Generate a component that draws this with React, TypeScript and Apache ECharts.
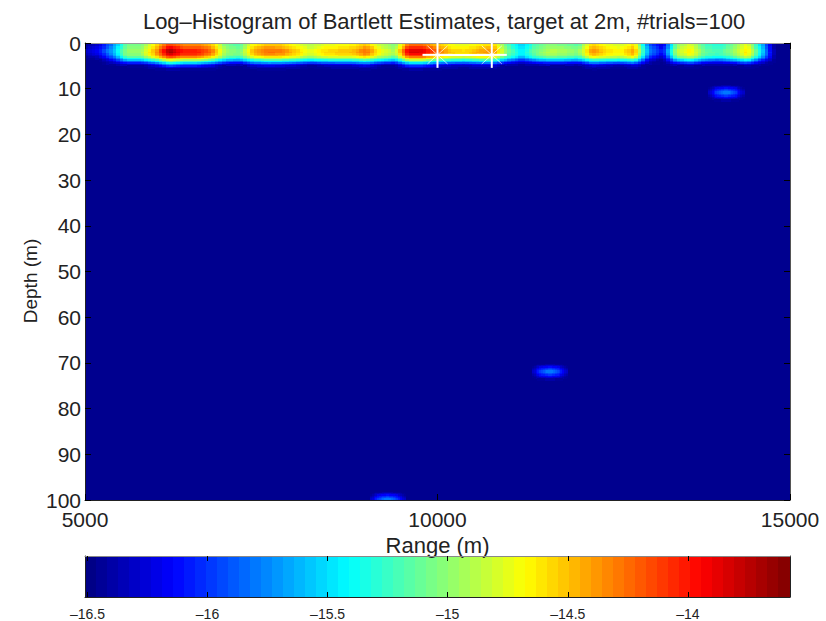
import React, { useEffect, useRef } from "react";
import * as echarts from "echarts";

const titleText = "Log–Histogram of Bartlett Estimates, target at 2m, #trials=100";
const xName = "Range (m)";
const yName = "Depth (m)";
const rangeTicks = [5000, 10000, 15000];
const depthTicks = [0, 10, 20, 30, 40, 50, 60, 70, 80, 90, 100];
const barTicks = [-16.5, -16, -15.5, -15, -14.5, -14];
const barTickLabels = ["–16.5", "–16", "–15.5", "–15", "–14.5", "–14"];
const barMin = -16.51;
const barMax = -13.575;

// Band along the surface: columns are ranges 5000..15000 every 200 m
const bandRanges = [5000,5200,5400,5600,5800,6000,6200,6400,6600,6800,7000,7200,7400,7600,7800,8000,8200,8400,8600,8800,9000,9200,9400,9600,9800,10000,10200,10400,10600,10800,11000,11200,11400,11600,11800,12000,12200,12400,12600,12800,13000,13200,13400,13600,13800,14000,14200,14400,14600,14800,15000];
const bandDepths = [0, 2, 3, 4, 5, 6];
const bandD0 = [-16.5,-16.3,-15.8,-15.1,-15.1,-14.7,-14.2,-14.4,-14.4,-14.55,-15.1,-15.2,-14.7,-14.55,-14.6,-14.75,-14.95,-14.8,-14.75,-14.7,-14.55,-14.9,-15.1,-14.35,-14.35,-14.55,-14.75,-14.8,-14.7,-14.6,-15.2,-15.6,-15.2,-15.05,-15.1,-15.2,-14.6,-14.75,-14.85,-14.65,-15.9,-16.3,-15.05,-14.8,-15.25,-15.35,-15.1,-14.75,-15.6,-16.5,-16.5];
const bandD2 = [-16.3,-16.1,-15.6,-14.95,-14.95,-14.4,-13.6,-13.95,-13.95,-14.2,-14.95,-15.05,-14.4,-14.2,-14.25,-14.5,-14.75,-14.55,-14.5,-14.45,-14.2,-14.7,-14.9,-13.75,-13.8,-14.2,-14.5,-14.55,-14.4,-14.3,-15.05,-15.45,-15.05,-14.85,-14.9,-15,-14.3,-14.55,-14.65,-14.35,-15.7,-16.1,-14.85,-14.6,-15.1,-15.2,-14.95,-14.55,-15.4,-16.5,-16.5];
const bandD3 = [-16.45,-16.3,-15.8,-15.05,-15.05,-14.55,-14,-14.2,-14.2,-14.45,-15.05,-15.15,-14.6,-14.45,-14.5,-14.65,-14.9,-14.7,-14.65,-14.65,-14.45,-14.85,-15.05,-14.15,-14.15,-14.45,-14.65,-14.7,-14.55,-14.55,-15.15,-15.55,-15.15,-15,-15.05,-15.15,-14.55,-14.7,-14.8,-14.55,-15.9,-16.3,-15,-14.75,-15.2,-15.3,-15.1,-14.7,-15.55,-16.5,-16.5];
const bandD4 = [-16.5,-16.5,-16.2,-15.7,-15.7,-15.35,-14.85,-15.05,-15.05,-15.25,-15.7,-15.8,-15.4,-15.3,-15.3,-15.4,-15.55,-15.45,-15.4,-15.4,-15.3,-15.55,-15.7,-15,-15,-15.3,-15.4,-15.45,-15.35,-15.35,-15.8,-16.1,-15.8,-15.65,-15.7,-15.8,-15.35,-15.45,-15.5,-15.35,-16.3,-16.5,-15.7,-15.5,-15.85,-15.95,-15.75,-15.5,-16.1,-16.5,-16.5];
const bandD5 = [-16.5,-16.5,-16.5,-16.45,-16.45,-16.25,-15.8,-16,-16,-16.2,-16.45,-16.5,-16.25,-16.15,-16.2,-16.3,-16.45,-16.35,-16.3,-16.3,-16.15,-16.4,-16.45,-15.95,-15.95,-16.2,-16.3,-16.35,-16.25,-16.25,-16.5,-16.5,-16.5,-16.45,-16.45,-16.5,-16.2,-16.3,-16.4,-16.25,-16.5,-16.5,-16.45,-16.35,-16.5,-16.5,-16.5,-16.35,-16.5,-16.5,-16.5];
const bandD6 = bandRanges.map(() => -16.51);

// Three isolated spots
const spotMidRanges = [11350, 11475, 11600, 11725, 11850];
const spotMidDepths = [70.25, 71.125, 72, 72.875, 73.75];
const spotMid = [
  [-16.51,-16.5,-16.45,-16.5,-16.51],
  [-16.45,-16.15,-16.05,-16.15,-16.45],
  [-16.35,-15.9,-15.7,-15.9,-16.35],
  [-16.45,-16.15,-16.05,-16.15,-16.45],
  [-16.51,-16.5,-16.45,-16.5,-16.51],
];
const spotTopRanges = [13850, 13975, 14100, 14225, 14350];
const spotTopDepths = [9.25, 10.125, 11, 11.875, 12.75];
const spotTop = [
  [-16.51,-16.5,-16.45,-16.5,-16.51],
  [-16.45,-16.15,-16.05,-16.15,-16.45],
  [-16.35,-15.9,-15.7,-15.9,-16.35],
  [-16.45,-16.15,-16.05,-16.15,-16.45],
  [-16.51,-16.5,-16.45,-16.5,-16.51],
];
const spotLowRanges = [9050, 9175, 9300, 9425, 9550];
const spotLowDepths = [98.25, 99.125, 100];
const spotLow = [
  [-16.51,-16.5,-16.45,-16.5,-16.51],
  [-16.45,-16.15,-16.05,-16.15,-16.45],
  [-16.35,-15.9,-15.7,-15.9,-16.35],
];

const targetRanges = [10000, 10770];
const targetDepths = [2.6, 2.6];

const patches = [
  { ranges: bandRanges, depths: bandDepths, rows: [bandD0, bandD2, bandD3, bandD4, bandD5, bandD6], dx: 4, dy: 3 },
  { ranges: spotMidRanges, depths: spotMidDepths, rows: spotMid, dx: 5, dy: 3 },
  { ranges: spotTopRanges, depths: spotTopDepths, rows: spotTop, dx: 5, dy: 3 },
  { ranges: spotLowRanges, depths: spotLowDepths, rows: spotLow, dx: 5, dy: 3 },
];

const clamp01 = (v: number) => Math.max(0, Math.min(1, v));
function jet(level: number) {
  const t = (level + 0.5) / 64;
  const r = clamp01(Math.min(4 * t - 1.5, -4 * t + 4.5));
  const g = clamp01(Math.min(4 * t - 0.5, -4 * t + 3.5));
  const b = clamp01(Math.min(4 * t + 0.5, -4 * t + 2.5));
  return `rgb(${Math.round(r * 255)},${Math.round(g * 255)},${Math.round(b * 255)})`;
}
const levelOf = (v: number) => Math.max(0, Math.min(63, Math.floor(((v - barMin) / (barMax - barMin)) * 64)));

function cellsFromPatches() {
  const out: number[][] = [];
  for (const p of patches) {
    for (let j = 0; j < p.depths.length - 1; j++) {
      for (let i = 0; i < p.ranges.length - 1; i++) {
        for (let sy = 0; sy < p.dy; sy++) {
          for (let sx = 0; sx < p.dx; sx++) {
            const u = (sx + 0.5) / p.dx;
            const v = (sy + 0.5) / p.dy;
            const val =
              p.rows[j][i] * (1 - u) * (1 - v) +
              p.rows[j][i + 1] * u * (1 - v) +
              p.rows[j + 1][i] * (1 - u) * v +
              p.rows[j + 1][i + 1] * u * v;
            const lvl = levelOf(val);
            if (lvl === 0) continue;
            const rw = p.ranges[i + 1] - p.ranges[i];
            const dh = p.depths[j + 1] - p.depths[j];
            out.push([
              p.ranges[i] + (rw * sx) / p.dx,
              p.depths[j] + (dh * sy) / p.dy,
              p.ranges[i] + (rw * (sx + 1)) / p.dx,
              p.depths[j] + (dh * (sy + 1)) / p.dy,
              lvl,
            ]);
          }
        }
      }
    }
  }
  return out;
}

const barLevels = Array.from({ length: 64 }, (_, k) => k);

const renderCell = (_: any, api: any) => {
  const a = api.coord([api.value(0), api.value(1)]);
  const b = api.coord([api.value(2), api.value(3)]);
  const x0 = Math.floor(a[0]);
  const y0 = Math.floor(a[1]);
  return {
    type: "rect",
    shape: { x: x0, y: y0, width: Math.ceil(b[0]) - x0, height: Math.ceil(b[1]) - y0 },
    style: { fill: jet(api.value(4)) },
  };
};

const renderBar = (_: any, api: any) => {
  const k = api.value(0);
  const step = (barMax - barMin) / 64;
  const a = api.coord([barMin + k * step, 1]);
  const b = api.coord([barMin + (k + 1) * step, 0]);
  return {
    type: "rect",
    shape: { x: Math.floor(a[0]), y: a[1], width: Math.ceil(b[0]) - Math.floor(a[0]), height: b[1] - a[1] },
    style: { fill: jet(k) },
  };
};

const renderStar = (_: any, api: any) => {
  const c = api.coord([api.value(0), api.value(1)]);
  const x = c[0];
  const y = c[1];
  const seg = (dx: number, dy: number, w: number, o: number) => ({
    type: "line",
    shape: { x1: x - dx, y1: y - dy, x2: x + dx, y2: y + dy },
    style: { stroke: "#fff", lineWidth: w, opacity: o },
  });
  return {
    type: "group",
    children: [seg(15, 0, 2, 1), seg(0, 13, 2, 1), seg(10, 9, 1, 0.7), seg(10, -9, 1, 0.7)],
  };
};

const axisColor = "#222";
const textColor = "#222";
const fontFamily = "Liberation Sans";

export default function App() {
  const ref = useRef<HTMLDivElement>(null);
  useEffect(() => {
    const chart = echarts.init(ref.current!, undefined, { renderer: "svg" });
    const edgeLine = { show: true, lineStyle: { color: axisColor, width: 1 } };
    chart.setOption({
      animation: false,
      backgroundColor: "#fff",
      title: {
        text: titleText,
        left: 439,
        top: 5,
        textAlign: "center",
        textStyle: { fontFamily, fontSize: 22, fontWeight: "normal", color: textColor },
      },
      graphic: [
        {
          type: "text",
          x: 30,
          y: 281,
          rotation: Math.PI / 2,
          style: { text: yName, fontFamily, fontSize: 19, fill: textColor, align: "center", verticalAlign: "middle" },
        },
      ],
      grid: [
        { left: 85, top: 43, width: 705, height: 457, backgroundColor: "#00008f", show: true, borderWidth: 0 },
        { left: 85, top: 556, width: 705, height: 41, show: false },
      ],
      xAxis: [
        {
          type: "value", gridIndex: 0, position: "bottom", min: 5000, max: 15000, interval: 5000, z: 5,
          name: xName, nameLocation: "middle", nameGap: 29,
          nameTextStyle: { fontFamily, fontSize: 22, color: textColor },
          axisLine: { show: true, onZero: false, lineStyle: { color: axisColor } },
          axisTick: { show: true, inside: true, length: 6, lineStyle: { color: "#000" } },
          axisLabel: { margin: 9, fontFamily, fontSize: 21, color: textColor, formatter: (v: number) => (rangeTicks.includes(v) ? String(v) : "") },
          splitLine: { show: false },
        },
        {
          type: "value", gridIndex: 0, position: "top", min: 5000, max: 15000, interval: 5000, z: 5,
          axisLine: { show: true, onZero: false, lineStyle: { color: "#999" } },
          axisTick: { show: true, inside: true, length: 6, lineStyle: { color: "#000" } },
          axisLabel: { show: false },
          splitLine: { show: false },
        },
        {
          type: "value", gridIndex: 1, position: "bottom", min: barMin, max: barMax, z: 5,
          axisLine: { show: true, onZero: false, lineStyle: { color: axisColor } },
          axisTick: { show: true, inside: true, length: 5, customValues: barTicks, lineStyle: { color: "#000" } },
          axisLabel: {
            margin: 10, fontFamily, fontSize: 14, color: textColor, customValues: barTicks,
            formatter: (v: number) => barTickLabels[barTicks.indexOf(v)] ?? "",
          },
          splitLine: { show: false },
        },
        {
          type: "value", gridIndex: 1, position: "top", min: barMin, max: barMax, z: 5,
          axisLine: { show: true, onZero: false, lineStyle: { color: "#888" } },
          axisTick: { show: true, inside: true, length: 5, customValues: barTicks, lineStyle: { color: "#000" } },
          axisLabel: { show: false },
          splitLine: { show: false },
        },
      ],
      yAxis: [
        {
          type: "value", gridIndex: 0, position: "left", inverse: true, min: 0, max: 100, interval: 10, z: 5,
          axisLine: { show: true, onZero: false, lineStyle: { color: axisColor } },
          axisTick: { show: true, inside: true, length: 6, lineStyle: { color: "#000" } },
          axisLabel: { margin: 4, fontFamily, fontSize: 21, color: textColor, formatter: (v: number) => (depthTicks.includes(v) ? String(v) : "") },
          splitLine: { show: false },
        },
        {
          type: "value", gridIndex: 0, position: "right", inverse: true, min: 0, max: 100, interval: 10, z: 5,
          axisLine: { show: true, onZero: false, lineStyle: { color: "#555" } },
          axisTick: { show: true, inside: true, length: 6, lineStyle: { color: "#000" } },
          axisLabel: { show: false },
          splitLine: { show: false },
        },
        {
          type: "value", gridIndex: 1, position: "left", min: 0, max: 1, z: 5,
          axisLine: { ...edgeLine, onZero: false }, axisTick: { show: false }, axisLabel: { show: false }, splitLine: { show: false },
        },
        {
          type: "value", gridIndex: 1, position: "right", min: 0, max: 1, z: 5,
          axisLine: { ...edgeLine, onZero: false }, axisTick: { show: false }, axisLabel: { show: false }, splitLine: { show: false },
        },
      ],
      series: [
        { type: "custom", xAxisIndex: 0, yAxisIndex: 0, clip: true, renderItem: renderCell, data: cellsFromPatches(), encode: { x: [0, 2], y: [1, 3] }, silent: true },
        { type: "custom", xAxisIndex: 2, yAxisIndex: 2, renderItem: renderBar, data: barLevels.map((k) => [k]), silent: true, encode: { x: 0 } },
        { type: "line", xAxisIndex: 0, yAxisIndex: 0, z: 6, symbol: "none", lineStyle: { color: "#fff", width: 2 }, data: targetRanges.map((r, i) => [r, targetDepths[i]]), silent: true },
        { type: "custom", xAxisIndex: 0, yAxisIndex: 0, z: 7, clip: false, renderItem: renderStar, data: targetRanges.map((r, i) => [r, targetDepths[i]]), silent: true },
      ],
    });
    return () => chart.dispose();
  }, []);
  return <div ref={ref} style={{ width: 826, height: 621, position: "absolute", left: 0, top: 0 }} />;
}
